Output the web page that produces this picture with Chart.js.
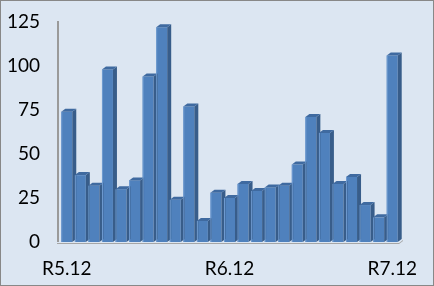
<!DOCTYPE html>
<html>
<head>
<meta charset="utf-8">
<script src="https://cdn.jsdelivr.net/npm/chart.js@4"></script>
<style>
  html, body { margin: 0; padding: 0; background: #dce6f2; }
  #wrap { width: 432px; height: 284px; border: 1px solid #888; background: #dce6f2; }
</style>
</head>
<body>
<div id="wrap"><canvas id="chart" width="432" height="284"></canvas></div>
<script>
const months = [
  "R5.12", "R6.1", "R6.2", "R6.3", "R6.4", "R6.5", "R6.6", "R6.7", "R6.8",
  "R6.9", "R6.10", "R6.11", "R6.12", "R7.1", "R7.2", "R7.3", "R7.4", "R7.5",
  "R7.6", "R7.7", "R7.8", "R7.9", "R7.10", "R7.11", "R7.12",
];
const counts = [
  74, 38, 32, 98, 30, 35, 94, 122, 24, 77, 12, 28, 25,
  33, 29, 31, 32, 44, 71, 62, 33, 37, 21, 14, 106,
];
const shownLabels = ["R5.12", "R6.12", "R7.12"];
const yTicks = [0, 25, 50, 75, 100, 125];

const DX = 4, DY = 3;

const ctx = document.getElementById("chart").getContext("2d");

const chart = new Chart(ctx, {
  type: "bar",
  data: {
    labels: months,
    datasets: [
      {
        data: counts,
        backgroundColor: "#4f81bd",
        borderWidth: 0,
        barPercentage: 0.9,
        categoryPercentage: 0.9,
      },
    ],
  },
  options: {
    responsive: false,
    animation: false,
    layout: { padding: { top: 21, right: 34, bottom: 0, left: 0 } },
    plugins: {
      legend: { display: false },
      tooltip: { enabled: false },
    },
    scales: {
      x: {
        offset: true,
        grid: { display: false, drawTicks: false },
        border: { display: false },
        afterFit(scale) { scale.height = 43; },
        ticks: {
          autoSkip: false,
          maxRotation: 0,
          padding: 15,
          color: "#000",
          font: { family: "Lato", size: 19 },
          callback(value) {
            const m = months[value];
            return shownLabels.includes(m) ? m : "";
          },
        },
      },
      y: {
        min: 0,
        max: 125,
        afterFit(scale) {
          scale.width = 59;
          scale.paddingTop = 0;
          scale.paddingBottom = 0;
        },
        afterBuildTicks(scale) { scale.ticks = yTicks.map((v) => ({ value: v })); },
        grid: { display: false, drawTicks: false },
        border: { display: false },
        ticks: {
          padding: 20,
          color: "#000",
          font: { family: "Lato", size: 19 },
        },
      },
    },
  },
  plugins: [
    {
      id: "bars3d",
      beforeDatasetsDraw(chart) {
        const { ctx, chartArea: { left, right, bottom, top } } = chart;
        ctx.save();
        // back axis wall line
        ctx.strokeStyle = "#9a9a9a";
        ctx.lineWidth = 2;
        ctx.beginPath();
        ctx.moveTo(left - 2, top - 1);
        ctx.lineTo(left - 2, bottom);
        ctx.stroke();
        // floor
        ctx.fillStyle = "#a6a6a6";
        ctx.beginPath();
        ctx.moveTo(left - 3, bottom + 1);
        ctx.lineTo(right, bottom + 1);
        ctx.lineTo(right + DX, bottom - DY + 1);
        ctx.lineTo(right + DX, bottom - DY + 2);
        ctx.lineTo(right, bottom + 2);
        ctx.lineTo(left - 3, bottom + 2);
        ctx.closePath();
        ctx.fill();
        ctx.restore();
      },
      afterDatasetsDraw(chart) {
        const { ctx } = chart;
        chart.getDatasetMeta(0).data.forEach((bar) => {
          const x0 = bar.x - bar.width / 2;
          const x1 = bar.x + bar.width / 2;
          const y0 = bar.y;
          const yb = bar.base;
          ctx.save();
          // side face
          ctx.fillStyle = "#385d8a";
          ctx.beginPath();
          ctx.moveTo(x1, y0);
          ctx.lineTo(x1 + DX, y0 - DY);
          ctx.lineTo(x1 + DX, yb - DY);
          ctx.lineTo(x1, yb);
          ctx.closePath();
          ctx.fill();
          // top face
          ctx.fillStyle = "#3f6aa0";
          ctx.beginPath();
          ctx.moveTo(x0, y0);
          ctx.lineTo(x0 + DX, y0 - DY);
          ctx.lineTo(x1 + DX, y0 - DY);
          ctx.lineTo(x1, y0);
          ctx.closePath();
          ctx.fill();
          // light edge on front
          ctx.fillStyle = "#6f9bd0";
          ctx.fillRect(x0, y0, 1, yb - y0);
          ctx.restore();
        });
      },
    },
  ],
});
</script>
</body>
</html>
